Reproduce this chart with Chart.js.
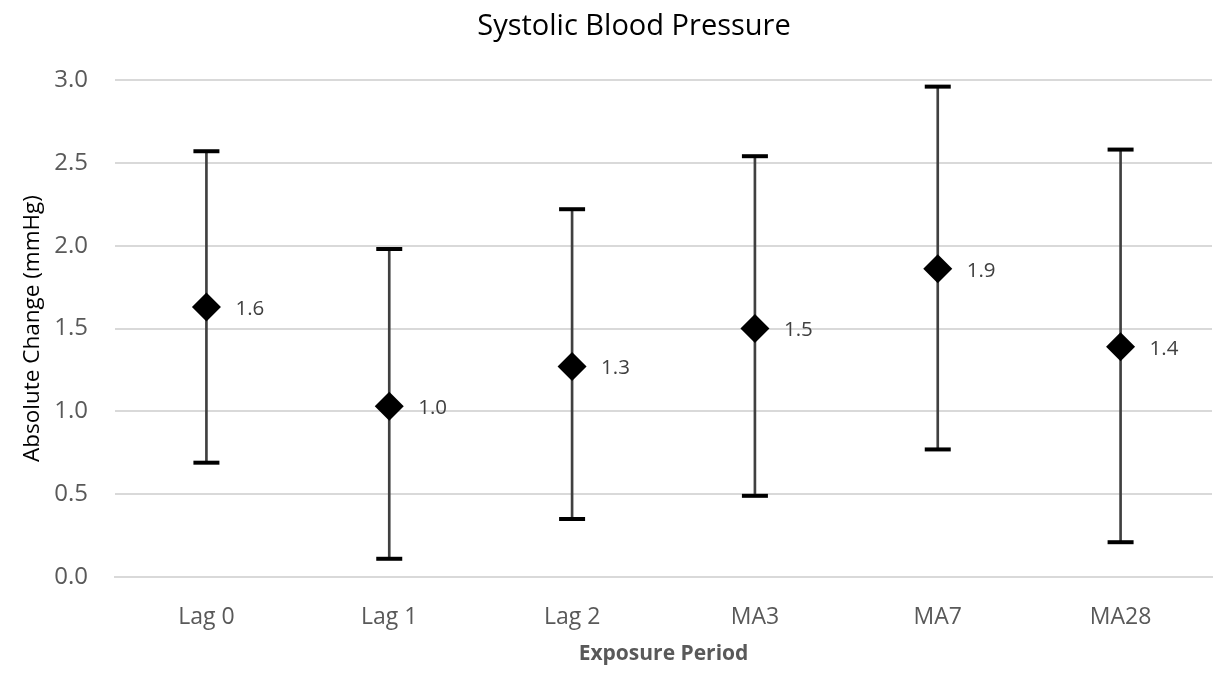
<!DOCTYPE html>
<html>
<head>
<meta charset="utf-8">
<script src="https://cdn.jsdelivr.net/npm/chart.js@4.4.1/dist/chart.umd.min.js"></script>
<style>
  html,body{margin:0;padding:0;background:#fff;}
  #wrap{width:1229px;height:677px;position:relative;}
</style>
</head>
<body>
<div id="wrap"><canvas id="c"></canvas></div>
<script>
/* ============ data ============ */
const periods  = ['Lag 0','Lag 1','Lag 2','MA3','MA7','MA28'];
const estimate = [1.63, 1.03, 1.27, 1.50, 1.86, 1.39];
const lower    = [0.69, 0.11, 0.35, 0.49, 0.77, 0.21];
const upper    = [2.57, 1.98, 2.22, 2.54, 2.96, 2.58];
const yTicks   = [0, 0.5, 1.0, 1.5, 2.0, 2.5, 3.0];
const chartTitle = 'Systolic Blood Pressure';

const FONT = "'Open Sans','Noto Sans',sans-serif";
Chart.defaults.font.family = FONT;
Chart.defaults.color = '#595959';

/* chart title (placed like the Excel original, slightly right of canvas centre) */
const titlePlugin = {
  id:'titlePlugin',
  afterDraw(chart){
    const ctx = chart.ctx;
    ctx.save();
    ctx.font = `29px ${FONT}`;
    ctx.fillStyle = '#000';
    ctx.textAlign = 'center';
    ctx.textBaseline = 'middle';
    ctx.fillText(chartTitle, 634, 27);
    ctx.restore();
  }
};

/* value labels to the right of each diamond */
const pointLabels = {
  id:'pointLabels',
  afterDatasetsDraw(chart){
    const meta = chart.getDatasetMeta(3);
    const ctx = chart.ctx;
    ctx.save();
    ctx.font = `20.5px ${FONT}`;
    ctx.fillStyle = '#404040';
    ctx.textAlign = 'left';
    ctx.textBaseline = 'middle';
    meta.data.forEach((pt,i)=>{
      ctx.fillText(estimate[i].toFixed(1), pt.x + 29, pt.y + 2);
    });
    ctx.restore();
  }
};

const capStyle = {type:'line',showLine:false,pointStyle:'line',pointRadius:13,pointHoverRadius:13,
  pointBorderWidth:4,pointBorderColor:'#000',borderColor:'#000',order:2};

new Chart(document.getElementById('c'),{
  type:'bar',
  data:{labels:periods,datasets:[
    {type:'bar',label:'CI',data:lower.map((l,i)=>[l,upper[i]]),backgroundColor:'#404040',
      barThickness:2,borderWidth:0,order:3},
    {...capStyle,label:'Upper',data:upper},
    {...capStyle,label:'Lower',data:lower},
    {type:'line',label:'Estimate',data:estimate,showLine:false,pointStyle:'rectRot',
      pointRadius:14.5,pointHoverRadius:14.5,pointBackgroundColor:'#000',pointBorderColor:'#000',
      pointBorderWidth:0,order:1}
  ]},
  options:{
    responsive:true,maintainAspectRatio:false,animation:false,
    layout:{padding:{left:0,right:2,top:80,bottom:0}},
    plugins:{legend:{display:false},tooltip:{enabled:false},title:{display:false}},
    scales:{
      x:{offset:true,grid:{display:false},border:{display:true,color:'#d9d9d9',width:2},
        ticks:{padding:19,font:{size:23},color:'#595959'},
        title:{display:true,text:'Exposure Period',color:'#595959',font:{size:21,weight:'bold'},padding:{top:0,bottom:10}},
        afterFit(s){ s.height = 100; }},
      y:{min:0,max:3,afterBuildTicks(s){ s.ticks = yTicks.map(v=>({value:v})); },
        grid:{color:'#d9d9d9',lineWidth:2,drawTicks:false},border:{display:false},
        ticks:{padding:27,font:{size:24},color:'#595959',callback:v=>Number(v).toFixed(1)},
        title:{display:true,text:'Absolute Change (mmHg)',color:'#000',font:{size:22.5},padding:{top:19.5,bottom:0}},
        afterFit(s){ s.width = 115; }}
    }
  },
  plugins:[pointLabels,titlePlugin]
});
</script>
</body>
</html>
